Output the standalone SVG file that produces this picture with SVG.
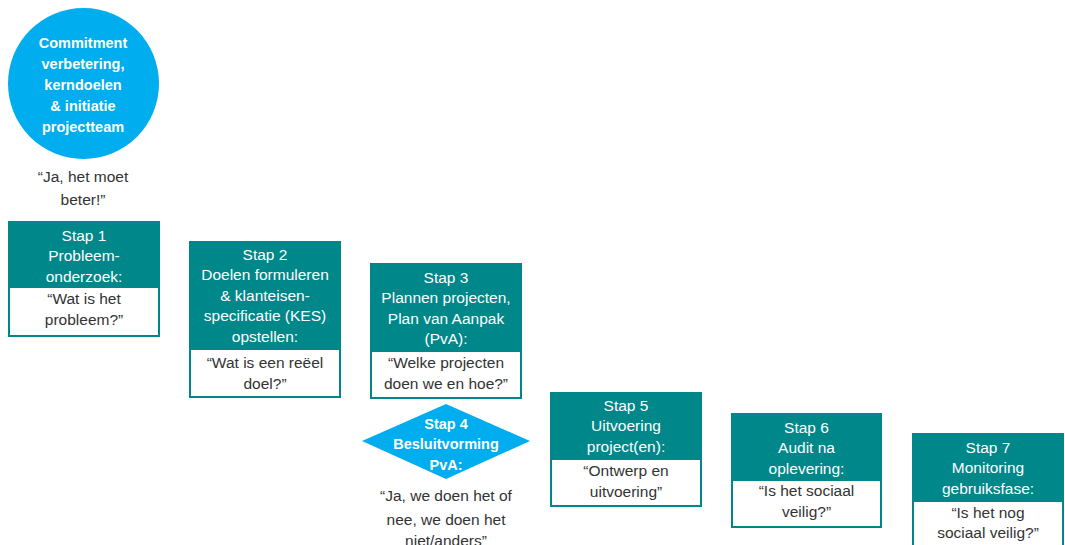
<svg xmlns="http://www.w3.org/2000/svg" width="1065" height="545" viewBox="0 0 1065 545">
<style>
.bg{fill:#ffffff}
.teal{fill:#00878a}
.inner{fill:#ffffff}
.blue{fill:#00adef}
text{font-family:"Liberation Sans",Arial,sans-serif;font-size:15.5px;text-anchor:middle}
.w{fill:#ffffff}
.d{fill:#333333}
.b{font-weight:bold;font-size:14.5px}
</style>
<rect class="bg" x="0" y="0" width="1065" height="545"/>
<g id="connectors"></g>
<g id="start">
<circle class="blue" cx="83.5" cy="83.5" r="75.5"/>
<text class="w b" x="83" y="47.5">Commitment</text>
<text class="w b" x="83" y="68.5">verbetering,</text>
<text class="w b" x="83" y="90">kerndoelen</text>
<text class="w b" x="83" y="111">&amp; initiatie</text>
<text class="w b" x="83" y="132">projectteam</text>
<text class="d" x="83" y="181.5">“Ja, het moet</text>
<text class="d" x="83" y="204.5">beter!”</text>
</g>
<g id="stap1">
<rect class="teal" x="8" y="221" width="152" height="116"/>
<rect class="inner" x="10" y="288" width="148" height="47"/>
<text class="w" x="84" y="240.5">Stap 1</text>
<text class="w" x="84" y="261">Probleem-</text>
<text class="w" x="84" y="281.5">onderzoek:</text>
<text class="d" x="84" y="303.5">“Wat is het</text>
<text class="d" x="84" y="325">probleem?”</text>
</g>
<g id="stap2">
<rect class="teal" x="189" y="241" width="152" height="157"/>
<rect class="inner" x="191" y="350" width="148" height="46"/>
<text class="w" x="265" y="259.5">Stap 2</text>
<text class="w" x="265" y="280">Doelen formuleren</text>
<text class="w" x="265" y="300.5">&amp; klanteisen-</text>
<text class="w" x="265" y="321">specificatie (KES)</text>
<text class="w" x="265" y="341.5">opstellen:</text>
<text class="d" x="265" y="367.5">“Wat is een reëel</text>
<text class="d" x="265" y="389">doel?”</text>
</g>
<g id="stap3">
<rect class="teal" x="370" y="263" width="152" height="136"/>
<rect class="inner" x="372" y="352" width="148" height="45"/>
<text class="w" x="446" y="282.5">Stap 3</text>
<text class="w" x="446" y="303">Plannen projecten,</text>
<text class="w" x="446" y="323.5">Plan van Aanpak</text>
<text class="w" x="446" y="344">(PvA):</text>
<text class="d" x="446" y="367.5">“Welke projecten</text>
<text class="d" x="446" y="389">doen we en hoe?”</text>
</g>
<g id="stap4">
<polygon class="blue" points="362,441 446,404 530,441 446,479"/>
<text class="w b" x="446" y="428.5">Stap 4</text>
<text class="w b" x="446" y="448.5">Besluitvorming</text>
<text class="w b" x="446" y="469.5">PvA:</text>
<text class="d" x="446" y="500.5">“Ja, we doen het of</text>
<text class="d" x="446" y="524.5">nee, we doen het</text>
<text class="d" x="446" y="546">niet/anders”</text>
</g>
<g id="stap5">
<rect class="teal" x="550" y="392" width="152" height="115"/>
<rect class="inner" x="552" y="460" width="148" height="45"/>
<text class="w" x="626" y="410.5">Stap 5</text>
<text class="w" x="626" y="431">Uitvoering</text>
<text class="w" x="626" y="451.5">project(en):</text>
<text class="d" x="626" y="475.5">“Ontwerp en</text>
<text class="d" x="626" y="497">uitvoering”</text>
</g>
<g id="stap6">
<rect class="teal" x="731" y="413" width="151" height="115"/>
<rect class="inner" x="733" y="481" width="147" height="45"/>
<text class="w" x="806.5" y="432.5">Stap 6</text>
<text class="w" x="806.5" y="453">Audit na</text>
<text class="w" x="806.5" y="473.5">oplevering:</text>
<text class="d" x="806.5" y="495.5">“Is het sociaal</text>
<text class="d" x="806.5" y="517">veilig?”</text>
</g>
<g id="stap7">
<rect class="teal" x="912" y="433" width="152" height="115"/>
<rect class="inner" x="914" y="502" width="148" height="45"/>
<text class="w" x="988" y="452.5">Stap 7</text>
<text class="w" x="988" y="473">Monitoring</text>
<text class="w" x="988" y="493.5">gebruiksfase:</text>
<text class="d" x="988" y="517.5">“Is het nog</text>
<text class="d" x="988" y="538">sociaal veilig?”</text>
</g>
</svg>
